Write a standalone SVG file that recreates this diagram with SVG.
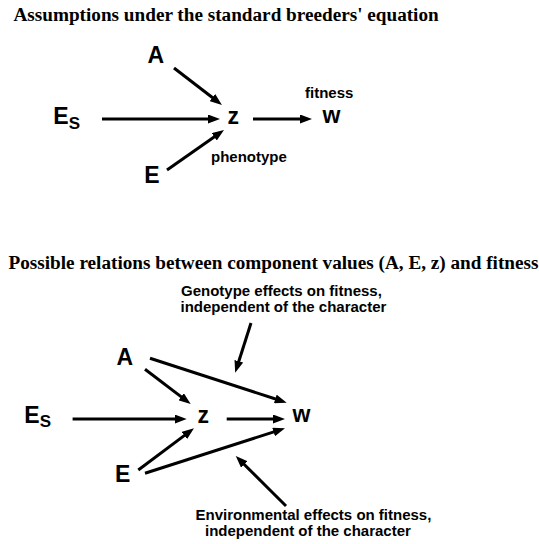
<svg xmlns="http://www.w3.org/2000/svg" width="539" height="544" viewBox="0 0 539 544">
<style>
.title{font-family:"Liberation Serif","Times New Roman",serif;font-weight:bold;font-size:19.2px;fill:#000}
.big{font-family:"Liberation Sans",Arial,sans-serif;font-weight:bold;font-size:23px;fill:#000}
.sm{font-family:"Liberation Sans",Arial,sans-serif;font-weight:bold;font-size:15px;fill:#000}
.sub{font-size:17px}
.c{stroke:#000;stroke-width:3;fill:none;marker-end:url(#ah)}
</style>
<defs>
<marker id="ah" markerUnits="userSpaceOnUse" markerWidth="12" markerHeight="9" refX="6" refY="4.5" orient="auto">
<path d="M0,0 L12,4.5 L0,9 Z" fill="#000"/>
</marker>
</defs>
<rect width="539" height="544" fill="#fff"/>
<text class="title" x="13.5" y="21.4">Assumptions under the standard breeders' equation</text>
<text class="title" x="8.5" y="268.7">Possible relations between component values (A, E, z) and fitness</text>
<g id="top-A"><text class="big" x="147.5" y="63">A</text></g>
<g id="top-Es"><text class="big" x="53.3" y="124" font-size="24">E<tspan class="sub" dy="4.5">S</tspan></text></g>
<g id="top-z"><text class="big" x="227.5" y="123.5">z</text></g>
<g id="top-w"><text class="big" x="322.5" y="123">w</text></g>
<g id="top-E"><text class="big" x="144.3" y="183">E</text></g>
<g id="top-fitness"><text class="sm" x="305" y="97.5">fitness</text></g>
<g id="top-phenotype"><text class="sm" x="211" y="161.7">phenotype</text></g>
<g id="bot-A"><text class="big" x="116.5" y="365">A</text></g>
<g id="bot-Es"><text class="big" x="24.3" y="422.7" font-size="24">E<tspan class="sub" dy="4.5">S</tspan></text></g>
<g id="bot-z"><text class="big" x="197.5" y="422.7">z</text></g>
<g id="bot-w"><text class="big" x="292.5" y="422.3">w</text></g>
<g id="bot-E"><text class="big" x="115" y="481.7">E</text></g>
<g id="geno-label"><text class="sm" x="181" y="295.5">Genotype effects on fitness,</text><text class="sm" x="180.5" y="312">independent of the character</text></g>
<g id="env-label"><text class="sm" x="195.5" y="519.5">Environmental effects on fitness,</text><text class="sm" x="205" y="536">independent of the character</text></g>
<g id="connectors">
<line class="c" x1="174" y1="68" x2="217.2" y2="101.3"/>
<line class="c" x1="102" y1="119" x2="214" y2="119"/>
<line class="c" x1="253" y1="119" x2="306" y2="119"/>
<line class="c" x1="167" y1="170" x2="219.1" y2="133.4"/>
<line class="c" x1="145" y1="369.3" x2="185.9" y2="400.4"/>
<line class="c" x1="150" y1="358.3" x2="281" y2="400.8"/>
<line class="c" x1="72.6" y1="419" x2="180.7" y2="419"/>
<line class="c" x1="226.7" y1="419" x2="279" y2="419"/>
<line class="c" x1="138.3" y1="470" x2="189.2" y2="431.9"/>
<line class="c" x1="145" y1="473.3" x2="279.3" y2="430.1"/>
<line class="c" x1="251" y1="323" x2="237" y2="367"/>
<line class="c" x1="286" y1="506" x2="240" y2="460.2"/>
</g>
</svg>
